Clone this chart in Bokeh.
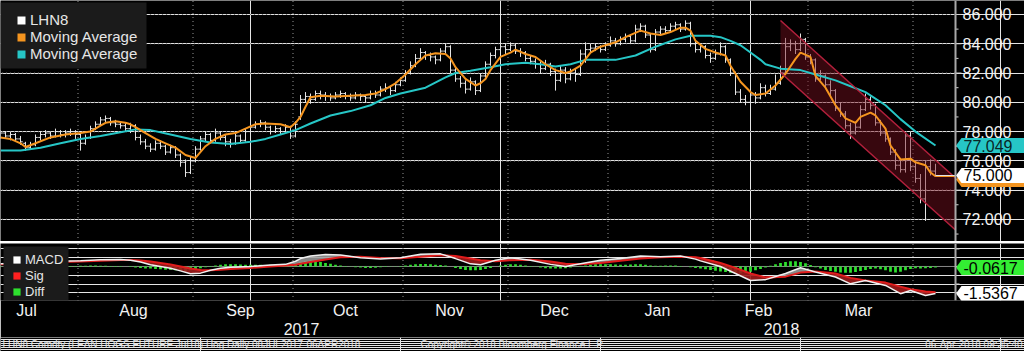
import numpy as np
from bokeh.plotting import figure
from bokeh.layouts import column
from bokeh.models import (Range1d, FixedTicker, LinearAxis, BoxAnnotation,
                          Legend, LegendItem, Span, CustomJSTickFormatter)
from bokeh.core.properties import value
from bokeh.embed import file_html
from bokeh.resources import INLINE

FONT = "Liberation Sans"

# ---------------- data (trading-day index 0 = 10 Jul 2017) ----------------
bar_open = [77.6,77.9,77.7,77.8,77.5,77.2,76.9,77.1,77.6,77.8,
            77.9,77.7,78.0,77.8,77.9,78.0,77.8,77.2,77.6,78.2,
            78.5,78.8,78.9,78.6,78.5,78.4,78.2,78.4,77.6,77.3,
            77.0,76.8,77.2,77.0,76.6,76.9,76.4,75.9,75.2,76.0,
            76.8,77.5,77.8,77.4,77.9,77.6,77.3,77.2,77.7,77.4,
            78.0,78.3,78.5,78.6,78.3,78.0,78.2,78.0,78.3,77.7,
            79.0,80.2,80.4,80.2,80.6,80.5,80.4,80.3,80.5,80.6,
            80.4,80.3,80.5,80.4,80.3,80.6,80.5,80.9,81.0,80.8,
            81.2,81.5,82.0,82.5,83.0,83.4,83.2,83.1,82.9,83.5,
            83.8,82.2,81.6,81.3,80.9,81.4,80.8,81.8,82.6,83.2,
            83.6,83.8,83.6,83.9,83.5,83.4,83.0,82.8,82.6,82.3,
            82.6,82.1,81.5,82.2,81.6,82.0,81.9,83.3,83.6,83.7,
            83.8,83.6,83.9,84.2,84.0,84.3,84.5,84.2,85.0,85.2,
            84.6,83.6,84.8,85.0,84.9,85.2,85.3,85.0,85.4,84.0,
            83.6,83.8,83.2,83.0,83.3,83.8,82.9,82.0,80.7,80.2,
            80.0,80.5,80.3,81.0,80.6,80.9,81.3,82.0,83.8,84.0,
            83.6,84.3,83.1,82.9,81.6,81.8,81.2,80.8,79.6,79.2,
            78.4,77.9,78.3,79.5,80.2,79.8,78.6,77.9,77.5,76.6,
            75.7,75.4,77.7,75.6,74.8,73.4,75.6,75.3]
bar_high = [78.1,78.0,78.0,77.9,77.7,77.3,77.3,77.8,78.0,78.1,
            78.0,78.2,78.1,78.1,78.2,78.1,77.9,77.8,78.4,78.7,
            79.0,79.1,79.0,78.8,78.7,78.6,78.6,78.5,77.8,77.5,
            77.2,77.4,77.4,77.1,77.1,77.0,76.5,76.1,76.3,77.0,
            77.7,78.0,77.9,78.2,78.0,77.8,77.5,77.9,77.8,78.2,
            78.5,78.7,78.8,78.7,78.4,78.4,78.3,78.5,78.4,78.7,
            80.5,80.7,80.6,80.8,80.8,80.7,80.6,80.7,80.8,80.7,
            80.6,80.7,80.6,80.5,80.8,80.8,81.1,81.3,81.1,81.4,
            81.7,82.2,82.8,83.3,83.7,83.5,83.4,83.2,83.7,84.0,
            83.9,82.4,81.8,81.5,81.7,81.5,82.0,82.8,83.4,83.8,
            84.0,84.0,84.1,84.0,83.7,83.5,83.2,83.0,82.8,82.9,
            82.7,82.3,82.5,82.4,82.3,82.3,83.6,84.1,84.0,84.0,
            83.9,84.1,84.5,84.4,84.5,84.7,84.6,85.3,85.4,85.3,
            84.7,85.0,85.2,85.2,85.4,85.5,85.4,85.6,85.5,84.2,
            84.0,83.9,83.4,83.6,84.1,83.9,83.0,82.1,80.9,80.5,
            80.8,80.7,81.3,81.2,81.2,81.9,82.5,84.4,84.3,84.2,
            84.7,84.4,83.3,83.0,82.2,81.9,81.5,80.9,80.0,79.4,
            78.6,78.6,79.8,80.6,80.4,79.9,78.8,78.2,77.6,76.8,
            76.0,77.9,78.0,76.0,75.1,76.0,76.1,75.8]
bar_low = [77.5,77.5,77.4,77.3,77.1,76.7,76.8,77.0,77.4,77.6,
           77.5,77.6,77.6,77.6,77.7,77.5,76.7,77.1,77.5,78.1,
           78.4,78.6,78.4,78.3,78.2,78.0,77.9,77.4,77.1,76.8,
           76.6,76.7,76.8,76.4,76.5,76.2,75.6,74.9,75.1,75.9,
           76.7,77.3,77.2,77.3,77.4,77.0,76.9,77.1,77.2,77.3,
           77.9,78.2,78.3,78.1,77.8,77.9,77.8,77.9,77.5,77.6,
           78.8,80.0,79.9,80.1,80.2,80.1,80.1,80.2,80.3,80.2,
           80.1,80.2,80.1,80.0,80.2,80.3,80.4,80.7,80.5,80.7,
           81.1,81.4,81.9,82.4,82.9,82.9,82.8,82.6,82.8,83.3,
           82.0,81.4,81.0,80.6,80.8,80.5,80.7,81.7,82.5,83.0,
           83.4,83.3,83.5,83.3,83.1,82.8,82.6,82.3,82.0,82.2,
           81.8,80.8,81.4,81.3,81.5,81.4,81.8,82.7,83.4,83.5,
           83.4,83.5,83.8,83.8,83.9,84.1,84.0,84.1,84.8,84.4,
           83.4,83.5,84.6,84.7,84.8,85.0,84.8,84.9,83.8,83.4,
           83.4,83.0,82.7,82.9,83.2,82.7,81.8,80.5,80.0,79.8,
           79.9,79.9,80.2,80.4,80.5,80.8,81.2,81.9,83.5,83.3,
           83.5,82.9,82.6,81.4,81.5,80.9,80.5,79.4,79.0,78.2,
           77.5,77.8,78.2,79.4,79.5,78.4,77.7,77.3,76.4,75.4,
           75.2,75.2,75.3,74.5,73.1,71.9,75.0,74.9]
bar_close = [77.9,77.7,77.8,77.5,77.3,76.9,77.1,77.6,77.8,77.9,
             77.7,78.0,77.8,77.9,78.0,77.8,77.2,77.6,78.2,78.5,
             78.8,78.9,78.6,78.5,78.4,78.2,78.4,77.6,77.3,77.0,
             76.8,77.2,77.0,76.6,76.9,76.4,75.9,75.2,76.0,76.8,
             77.5,77.8,77.4,77.9,77.6,77.3,77.2,77.7,77.4,78.0,
             78.3,78.5,78.6,78.3,78.0,78.2,78.0,78.3,77.7,78.5,
             80.2,80.4,80.2,80.6,80.5,80.4,80.3,80.5,80.6,80.4,
             80.3,80.5,80.4,80.3,80.6,80.5,80.9,81.0,80.8,81.2,
             81.5,82.0,82.5,83.0,83.4,83.2,83.1,82.9,83.5,83.8,
             82.2,81.6,81.3,80.9,81.4,80.8,81.8,82.6,83.2,83.6,
             83.8,83.6,83.9,83.5,83.4,83.0,82.8,82.6,82.3,82.6,
             82.1,81.5,82.2,81.6,82.0,81.9,83.3,83.6,83.7,83.8,
             83.6,83.9,84.2,84.0,84.3,84.5,84.2,85.0,85.2,84.6,
             83.6,84.8,85.0,84.9,85.2,85.3,85.0,85.4,84.0,83.6,
             83.8,83.2,83.0,83.3,83.8,82.9,82.0,80.7,80.2,80.0,
             80.5,80.3,81.0,80.6,80.9,81.3,82.0,83.8,84.0,83.6,
             84.3,83.1,82.9,81.6,81.8,81.2,80.8,79.6,79.2,78.4,
             77.9,78.3,79.5,80.2,79.8,78.6,77.9,77.5,76.6,75.7,
             75.4,77.7,75.6,74.8,73.4,75.6,75.3,75.0]

# orange (fast) moving average, read at selected days
fast_idx = [0,2,4,5,7,10,13,16,18,20,21,23,25,26,27,29,31,33,35,37,
            39,41,43,45,47,49,51,53,56,58,59,60,61,62,64,67,70,73,75,77,
            79,81,83,85,87,89,90,91,93,95,96,97,98,100,102,103,105,107,109,111,
            113,114,116,118,120,123,125,128,130,132,134,136,137,138,139,141,143,145,146,148,
            150,151,153,155,157,159,160,162,163,165,167,169,171,172,174,175,177,178,180,182,
            183,185,186,187]
fast_val = [77.6,77.5,77.2,76.95,77.2,77.6,77.8,77.9,78.0,78.4,78.6,78.7,78.6,78.5,78.3,77.9,77.5,77.2,76.9,76.4,
            76.2,77.0,77.5,77.8,77.9,78.2,78.5,78.55,78.5,78.3,78.6,79.0,79.7,80.35,80.45,80.4,80.45,80.5,80.6,80.9,
            81.3,81.9,82.6,83.2,83.35,83.3,83.0,82.4,81.6,81.15,81.3,81.6,82.2,83.1,83.4,83.6,83.3,83.1,82.6,82.2,
            82.0,82.1,82.5,83.4,83.8,84.1,84.45,84.9,84.7,84.6,84.8,85.1,85.1,84.9,84.2,83.65,83.4,83.2,82.5,81.4,
            80.7,80.5,80.6,81.15,81.95,82.97,83.4,83.1,81.8,81.0,79.8,78.9,78.6,79.0,79.3,79.1,78.2,77.05,76.1,76.15,
            75.9,75.7,75.2,74.95]

# cyan (slow) moving average
slow_idx = [0,4,8,12,16,20,24,27,30,34,38,42,46,50,53,56,59,62,66,70,
            74,77,80,85,89,91,94,98,101,105,108,111,114,117,123,127,131,135,138,142,
            144,146,148,150,152,153,156,160,163,167,170,173,177,180,183,187]
slow_val = [76.7,76.7,76.9,77.2,77.5,77.7,77.95,78.15,78.1,77.8,77.5,77.25,77.15,77.3,77.5,77.8,78.1,78.55,79.1,79.4,
            79.8,80.3,80.6,81.0,81.7,82.0,82.15,82.4,82.6,82.7,82.6,82.45,82.6,82.9,82.9,83.2,83.8,84.3,84.55,84.55,
            84.45,84.2,83.9,83.4,82.9,82.6,82.3,82.2,81.9,81.5,81.1,80.7,79.8,78.85,78.0,77.049]

# MACD panel
macd_idx = [0,4,8,12,16,20,24,26,28,30,32,34,36,38,40,42,44,46,50,54,
            57,59,60,62,65,68,72,76,80,84,88,91,94,96,99,102,106,110,113,116,
            120,124,128,132,136,139,140,144,147,150,153,157,160,163,167,170,173,177,180,182,
            185,187]
macd_val = [0.15,0.18,0.25,0.3,0.33,0.38,0.4,0.36,0.25,0.1,0.0,-0.1,-0.25,-0.42,-0.38,-0.22,-0.1,-0.05,0.0,0.08,
            0.12,0.3,0.45,0.6,0.68,0.65,0.5,0.42,0.5,0.7,0.72,0.45,0.15,0.1,0.35,0.5,0.35,0.12,0.0,0.15,
            0.35,0.45,0.6,0.55,0.6,0.42,0.32,0.0,-0.4,-0.8,-0.75,-0.4,-0.07,-0.32,-0.6,-0.99,-0.8,-1.08,-1.55,-1.37,
            -1.65,-1.5367]
sig_val = [0.12,0.15,0.2,0.25,0.29,0.33,0.37,0.37,0.34,0.28,0.2,0.11,0.0,-0.12,-0.2,-0.22,-0.19,-0.15,-0.08,0.0,
           0.05,0.1,0.15,0.25,0.4,0.52,0.55,0.49,0.47,0.55,0.64,0.6,0.45,0.35,0.3,0.36,0.38,0.28,0.16,0.12,
           0.2,0.32,0.45,0.52,0.55,0.52,0.48,0.2,-0.08,-0.4,-0.62,-0.58,-0.35,-0.28,-0.4,-0.65,-0.8,-0.92,-1.15,-1.3,
           -1.42,-1.475]
diff_val = [0.03,0.03,0.04,0.03,0.03,0.02,0.03,0.03,0.04,0.04,
            0.04,0.05,0.04,0.04,0.03,0.03,0.04,0.04,0.05,0.05,
            0.04,0.04,0.03,0.03,0.02,0.0,-0.03,-0.06,-0.09,-0.11,
            -0.12,-0.14,-0.16,-0.18,-0.2,-0.22,-0.24,-0.26,-0.22,-0.16,
            -0.1,-0.04,0.02,0.06,0.1,0.12,0.12,0.12,0.11,0.1,
            0.1,0.1,0.1,0.09,0.1,0.1,0.09,0.08,0.1,0.16,
            0.24,0.3,0.32,0.3,0.26,0.2,0.15,0.1,0.06,0.02,
            -0.02,-0.04,-0.06,-0.08,-0.08,-0.07,-0.05,-0.03,-0.01,0.01,
            0.03,0.06,0.1,0.13,0.14,0.14,0.12,0.1,0.08,0.05,
            0.0,-0.08,-0.15,-0.2,-0.22,-0.22,-0.2,-0.15,-0.08,0.0,
            0.06,0.1,0.12,0.12,0.1,0.06,0.02,-0.02,-0.06,-0.1,
            -0.12,-0.12,-0.12,-0.1,-0.06,-0.02,0.02,0.06,0.1,0.12,
            0.13,0.13,0.12,0.11,0.1,0.1,0.11,0.12,0.12,0.1,
            0.06,0.04,0.04,0.05,0.06,0.05,0.03,0.0,-0.04,-0.08,
            -0.12,-0.16,-0.2,-0.24,-0.28,-0.32,-0.36,-0.38,-0.38,-0.36,
            -0.3,-0.22,-0.14,-0.06,0.04,0.12,0.2,0.26,0.3,0.3,
            0.26,0.18,0.08,-0.04,-0.12,-0.2,-0.26,-0.3,-0.34,-0.36,
            -0.36,-0.32,-0.26,-0.2,-0.14,-0.12,-0.16,-0.22,-0.3,-0.34,
            -0.3,-0.22,-0.14,-0.1,-0.12,-0.1,-0.08,-0.0617]

# trend channel drawn on the chart
channel_x = [156, 191]
channel_upper = [85.59, 74.83]
channel_lower = [82.04, 71.28]

# axes
price_ticks = [72, 74, 76, 78, 80, 82, 84, 86]
price_minor = [71, 73, 75, 77, 79, 81, 83, 85]
macd_ticks = [-1, 0, 1]
month_labels = ["Jul", "Aug", "Sep", "Oct", "Nov", "Dec", "Jan", "Feb", "Mar"]
month_centers = [5.2, 26.6, 48.0, 69.0, 89.8, 110.8, 131.4, 151.6, 171.6]
month_bounds = [15.5, 38.5, 58.5, 80.5, 101.5, 121.5, 142.5, 161.5, 182.5]
year_labels = ["2017", "2018"]
year_centers = [60.2, 156.2]

last_price = 75.000
last_slow = 77.049
last_diff = -0.0617
last_macd = -1.5367

footer_left = "LHN8 Comdty (LEAN HOGS FUTURE  Jul18) Hog  Daily 08JUL2017-06APR2018"
footer_mid = "Copyright\u00a9 2018 Bloomberg Finance L.P."
footer_right = "06-Apr-2018 09:35:40"

# ---------------- styling / geometry ----------------
BG = "black"
GRID = "#7c7c7c"
ORANGE = "#f5951f"
CYAN = "#26c6c6"
BARC = "#e4e4e4"
AXC = "#a8a8a8"
TXT = "#f2f2f2"
LEGBG = "#1b1b1b"
X_END = 204.8        # 1024 px at 5 px per trading day
X_AXIS = 191.0       # price-scale line position (955 px)
PX = 0.2             # one pixel in x data units
YA = (70.49, 86.956)
YB = (-1.94, 1.31)
PY_A = (YA[1] - YA[0]) / 241   # one pixel in price units
PY_B = (YB[1] - YB[0]) / 57    # one pixel in MACD units
DOT = 4                        # dotted grid pitch, px

idx = np.arange(len(bar_close))
o = np.array(bar_open); h = np.array(bar_high); l = np.array(bar_low); c = np.array(bar_close)


def badge(p, yc, py, fill, label, tcolor, dy_px=0):
    yc = yc - dy_px * py
    hh = 7.5 * py
    xs = [X_AXIS + 0.5 * PX, X_AXIS + 6 * PX, X_END, X_END, X_AXIS + 6 * PX]
    ys = [yc, yc + hh, yc + hh, yc - hh, yc - hh]
    p.patch(xs, ys, fill_color=fill, line_color=None)
    if label:
        p.text(x=[X_AXIS + 8 * PX], y=[yc], text=[label], text_align="left", text_baseline="middle",
               text_font=value(FONT), text_font_size="16px", text_color=tcolor)


def dotted_vlines(p, xs, y0, y1, py):
    ys = np.arange(y0, y1, DOT * py)
    gx, gy = np.meshgrid(np.asarray(xs, float), ys)
    p.scatter(gx.ravel(), gy.ravel(), marker="square", size=1.2, fill_color=GRID, line_color=None)


def dotted_hlines(p, ys, x0, x1):
    xs = np.arange(x0, x1, DOT * PX)
    gx, gy = np.meshgrid(xs, np.asarray(ys, float))
    p.scatter(gx.ravel(), gy.ravel(), marker="square", size=1.2, fill_color=GRID, line_color=None)


def legend_box(p, y_top, py, left_px, right_px, top_px, bottom_px):
    p.add_layout(BoxAnnotation(left=left_px * PX, right=right_px * PX,
                               top=y_top - top_px * py, bottom=y_top - bottom_px * py,
                               fill_color=LEGBG, fill_alpha=1, line_color=None))


# ---------------- price panel ----------------
xr = Range1d(0, X_END)
pA = figure(width=1024, height=241, x_range=xr, y_range=Range1d(*YA),
            x_axis_location=None, y_axis_location=None,
            output_backend="svg", toolbar_location=None, min_border=0,
            background_fill_color=BG, border_fill_color=BG, outline_line_color=None)

dotted_vlines(pA, month_bounds, YA[0], YA[1], PY_A)
dotted_hlines(pA, price_ticks, 0.4, X_AXIS)

# OHLC bars
pA.segment(x0=idx, y0=l, x1=idx, y1=h, line_color=BARC, line_width=1)
pA.segment(x0=idx - 0.45, y0=o, x1=idx, y1=o, line_color=BARC, line_width=1)
pA.segment(x0=idx, y0=c, x1=idx + 0.45, y1=c, line_color=BARC, line_width=1)

# channel
pA.varea(x=channel_x, y1=channel_lower, y2=channel_upper, fill_color="#7a1020", fill_alpha=0.45)

# moving averages
pA.line(slow_idx, slow_val, line_color=CYAN, line_width=2)
pA.line(fast_idx, fast_val, line_color=ORANGE, line_width=2)

pA.line(channel_x, channel_upper, line_color="#b3203c", line_width=1.5)
pA.line(channel_x, channel_lower, line_color="#b3203c", line_width=1.5)

# last value lines
pA.segment(x0=[idx[-1]], y0=[fast_val[-1]], x1=[X_AXIS], y1=[fast_val[-1]], line_color=ORANGE, line_width=1.5)
pA.segment(x0=[idx[-1]], y0=[last_price], x1=[X_AXIS], y1=[last_price], line_color=BARC, line_width=1)

# price scale on the right
pA.add_layout(Span(location=X_AXIS, dimension="height", line_color=AXC, line_width=2))
pA.segment(x0=X_AXIS, y0=price_ticks, x1=X_AXIS + 6 * PX, y1=price_ticks, line_color="#d0d0d0")
pA.segment(x0=X_AXIS, y0=price_minor, x1=X_AXIS + 3 * PX, y1=price_minor, line_color="#d0d0d0")
pA.text(x=X_AXIS + 7 * PX, y=price_ticks, text=[f"{t:.3f}" for t in price_ticks],
        text_align="left", text_baseline="middle", text_font=value(FONT),
        text_font_size="16px", text_color=TXT)

badge(pA, last_slow, PY_A, CYAN, f"{last_slow:.3f}", "#0a2626")
badge(pA, last_price, PY_A, ORANGE, "", None, dy_px=4)
badge(pA, last_price, PY_A, "white", f"{last_price:.3f}", "black")

# legend (with its dark panel)
legend_box(pA, YA[1], PY_A, 0, 146, 2, 68)
rl1 = pA.quad(left=[np.nan], right=[np.nan], top=[np.nan], bottom=[np.nan], fill_color="white", line_color=None)
rl2 = pA.quad(left=[np.nan], right=[np.nan], top=[np.nan], bottom=[np.nan], fill_color=ORANGE, line_color=None)
rl3 = pA.quad(left=[np.nan], right=[np.nan], top=[np.nan], bottom=[np.nan], fill_color=CYAN, line_color=None)
legA = Legend(items=[LegendItem(label="LHN8", renderers=[rl1]),
                     LegendItem(label="Moving Average", renderers=[rl2]),
                     LegendItem(label="Moving Average", renderers=[rl3])],
              location=(16, 179), margin=0, padding=0, spacing=0,
              glyph_width=10, glyph_height=10, label_standoff=4, label_height=17,
              background_fill_color=LEGBG, background_fill_alpha=1, border_line_color=None,
              label_text_color="#e6e6e6", label_text_font=FONT, label_text_font_size="15px")
pA.add_layout(legA)

# ---------------- separator ----------------
pS = figure(width=1024, height=2, x_range=Range1d(0, 1), y_range=Range1d(0, 1),
            x_axis_location=None, y_axis_location=None, output_backend="svg", toolbar_location=None,
            min_border=0, background_fill_color="#9a9a9a", border_fill_color="#9a9a9a",
            outline_line_color=None)
pS.line(x=[], y=[])

# ---------------- MACD panel ----------------
pB = figure(frame_width=1024, frame_height=57, x_range=xr, y_range=Range1d(*YB),
            x_axis_location=None, y_axis_location=None,
            output_backend="svg", toolbar_location=None, min_border=0,
            background_fill_color=BG, border_fill_color=BG, outline_line_color=None)
dotted_vlines(pB, month_bounds, YB[0], YB[1], PY_B)
pB.segment(x0=[0], y0=[0], x1=[X_AXIS], y1=[0], line_color="#808080", line_width=1)

mi = np.array(macd_idx); mv = np.array(macd_val); sv = np.array(sig_val)
pB.vbar(x=idx, bottom=0, top=diff_val, width=0.55, fill_color="#2ee02e", line_color=None)
pB.varea(x=mi, y1=sv, y2=np.maximum(mv, sv), fill_color="#a0a0a0", fill_alpha=0.85)
pB.varea(x=mi, y1=np.minimum(mv, sv), y2=sv, fill_color="#9e1b1b", fill_alpha=0.9)
pB.line(mi, sv, line_color="#e01c1c", line_width=2)
pB.line(mi, mv, line_color="#f0f0f0", line_width=1.5)

pB.add_layout(Span(location=X_AXIS, dimension="height", line_color=AXC, line_width=2))
pB.segment(x0=X_AXIS, y0=macd_ticks, x1=X_AXIS + 4 * PX, y1=macd_ticks, line_color="#d0d0d0")
badge(pB, last_diff, PY_B, "#33ee33", f"{last_diff:.4f}", "black")
badge(pB, last_macd, PY_B, "white", f"{last_macd:.4f}", "black")

legend_box(pB, YB[1], PY_B, 3, 68, 3, 57)
rb1 = pB.quad(left=[np.nan], right=[np.nan], top=[np.nan], bottom=[np.nan], fill_color="white", line_color=None)
rb2 = pB.quad(left=[np.nan], right=[np.nan], top=[np.nan], bottom=[np.nan], fill_color="#ff2020", line_color=None)
rb3 = pB.quad(left=[np.nan], right=[np.nan], top=[np.nan], bottom=[np.nan], fill_color="#2ee02e", line_color=None)
legB = Legend(items=[LegendItem(label="MACD", renderers=[rb1]),
                     LegendItem(label="Sig", renderers=[rb2]),
                     LegendItem(label="Diff", renderers=[rb3])],
              location=(12, 1), margin=0, padding=0, spacing=0,
              glyph_width=9, glyph_height=9, label_standoff=4, label_height=16,
              background_fill_color=LEGBG, background_fill_alpha=1, border_line_color=None,
              label_text_color="#e6e6e6", label_text_font=FONT, label_text_font_size="13px")
pB.add_layout(legB)

fmt_m = CustomJSTickFormatter(args=dict(pos=month_centers, labs=month_labels),
                              code="const i = pos.indexOf(tick); return i >= 0 ? labs[i] : '';")
ax_m = LinearAxis(ticker=FixedTicker(ticks=month_centers), formatter=fmt_m,
                  axis_line_color=None, major_tick_line_color=None, minor_tick_line_color=None,
                  major_tick_out=0, major_tick_in=0, minor_tick_out=0, minor_tick_in=0,
                  major_label_text_color=TXT, major_label_text_font=FONT,
                  major_label_text_font_size="16px", major_label_standoff=1)
pB.add_layout(ax_m, "below")
fmt_y = CustomJSTickFormatter(args=dict(pos=year_centers, labs=year_labels),
                              code="const i = pos.indexOf(tick); return i >= 0 ? labs[i] : '';")
ax_y = LinearAxis(ticker=FixedTicker(ticks=year_centers), formatter=fmt_y,
                  axis_line_color=None, major_tick_line_color=None, minor_tick_line_color=None,
                  major_tick_out=0, major_tick_in=0, minor_tick_out=0, minor_tick_in=0,
                  major_label_text_color=TXT, major_label_text_font=FONT,
                  major_label_text_font_size="16px", major_label_standoff=1)
pB.add_layout(ax_y, "below")

# ---------------- footer ----------------
pC = figure(width=1024, height=14, x_range=Range1d(0, 1024), y_range=Range1d(0, 14),
            x_axis_location=None, y_axis_location=None, output_backend="svg", toolbar_location=None,
            min_border=0, background_fill_color=BG, border_fill_color=BG, outline_line_color=None)
pC.text(x=[2], y=[7], text=[footer_left], text_align="left", text_baseline="middle",
        text_font=value(FONT), text_font_size="10px", text_color="#e0e0e0")
pC.text(x=[512], y=[7], text=[footer_mid], text_align="center", text_baseline="middle",
        text_font=value(FONT), text_font_size="10px", text_color="#e0e0e0")
pC.text(x=[1022], y=[7], text=[footer_right], text_align="right", text_baseline="middle",
        text_font=value(FONT), text_font_size="10px", text_color="#e0e0e0")

layout = column(pA, pS, pB, pC, spacing=0)
open("out.html", "w").write(file_html(layout, INLINE, title="LHN8"))
